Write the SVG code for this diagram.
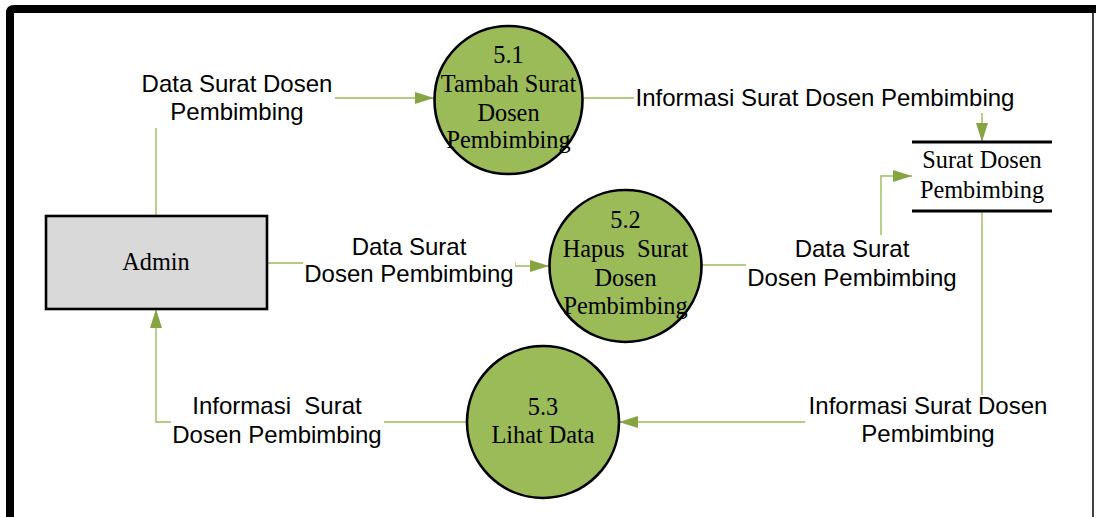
<svg xmlns="http://www.w3.org/2000/svg" width="1096" height="517" viewBox="0 0 1096 517">
  <defs>
    <marker id="arr" markerUnits="userSpaceOnUse" markerWidth="20" markerHeight="14" refX="19" refY="6" orient="auto">
      <path d="M0,0 L19,6 L0,12 z" fill="#86a542"/>
    </marker>
    <style>
      .proc { fill: #9bbb59; stroke: #000; stroke-width: 2.6; }
      .ent { fill: #d9d9d9; stroke: #000; stroke-width: 2.6; }
      .serif { font-family: "Liberation Serif", "Times New Roman", serif; font-size: 24.3px; fill: #000; text-anchor: middle; }
      .sans { font-family: "Liberation Sans", Arial, sans-serif; font-size: 24px; fill: #000; text-anchor: middle; }
      .flow { fill: none; stroke: #9bbb59; stroke-width: 1.4; marker-end: url(#arr); }
      .bg { fill: #fff; }
      .store { stroke: #000; stroke-width: 3; }
    </style>
  </defs>

  <rect x="0" y="0" width="1096" height="517" fill="#fff"/>

  <!-- frame -->
  <g id="frame">
    <path d="M10,517 V13 Q10,9 14,9 H1096" fill="none" stroke="#000" stroke-width="8"/>
    <line x1="1093" y1="13" x2="1093" y2="517" stroke="#000" stroke-width="1.5"/>
  </g>

  <!-- connectors -->
  <g id="connectors">
    <path class="flow" d="M156,216 V98 H434"/>
    <path class="flow" d="M583,98 H982 V142"/>
    <path class="flow" d="M267,263 H515 V266 H549"/>
    <path class="flow" d="M702,265 H881 V176 H912"/>
    <path class="flow" d="M982,211 V422 H619"/>
    <path class="flow" d="M467,422 H156 V309"/>

    <g id="label-1">
      <rect class="bg" x="138" y="68" width="197" height="60"/>
      <text class="sans" x="237" y="92">Data Surat Dosen</text>
      <text class="sans" x="237" y="120">Pembimbing</text>
    </g>
    <g id="label-2">
      <rect class="bg" x="634" y="80" width="385" height="33"/>
      <text class="sans" x="825" y="106">Informasi Surat Dosen Pembimbing</text>
    </g>
    <g id="label-3">
      <rect class="bg" x="303" y="232" width="212" height="60"/>
      <text class="sans" x="409" y="255">Data Surat</text>
      <text class="sans" x="409" y="282">Dosen Pembimbing</text>
    </g>
    <g id="label-4">
      <rect class="bg" x="746" y="235" width="212" height="60"/>
      <text class="sans" x="852" y="257">Data Surat</text>
      <text class="sans" x="852" y="286">Dosen Pembimbing</text>
    </g>
    <g id="label-5">
      <rect class="bg" x="805" y="395" width="246" height="55"/>
      <text class="sans" x="928" y="414">Informasi Surat Dosen</text>
      <text class="sans" x="928" y="442">Pembimbing</text>
    </g>
    <g id="label-6">
      <rect class="bg" x="171" y="395" width="213" height="55"/>
      <text class="sans" x="277" y="414" xml:space="preserve">Informasi  Surat</text>
      <text class="sans" x="277" y="443">Dosen Pembimbing</text>
    </g>
  </g>

  <!-- nodes -->
  <g id="admin">
    <rect class="ent" x="46" y="216" width="221" height="93"/>
    <text class="serif" x="156" y="270">Admin</text>
  </g>

  <g id="p51">
    <circle class="proc" cx="508.5" cy="100" r="74"/>
    <text class="serif" x="508.5" y="63">5.1</text>
    <text class="serif" x="508.5" y="92">Tambah Surat</text>
    <text class="serif" x="508.5" y="121">Dosen</text>
    <text class="serif" x="508.5" y="148">Pembimbing</text>
  </g>

  <g id="p52">
    <circle class="proc" cx="625.5" cy="266" r="76"/>
    <text class="serif" x="625.5" y="228">5.2</text>
    <text class="serif" x="625.5" y="257" xml:space="preserve">Hapus  Surat</text>
    <text class="serif" x="625.5" y="286">Dosen</text>
    <text class="serif" x="625.5" y="314">Pembimbing</text>
  </g>

  <g id="p53">
    <circle class="proc" cx="543" cy="422" r="76"/>
    <text class="serif" x="543" y="415">5.3</text>
    <text class="serif" x="543" y="443">Lihat Data</text>
  </g>

  <g id="store">
    <line class="store" x1="912" y1="142" x2="1052" y2="142"/>
    <line class="store" x1="912" y1="211" x2="1052" y2="211"/>
    <text class="serif" x="982" y="168">Surat Dosen</text>
    <text class="serif" x="982" y="198">Pembimbing</text>
  </g>
</svg>
